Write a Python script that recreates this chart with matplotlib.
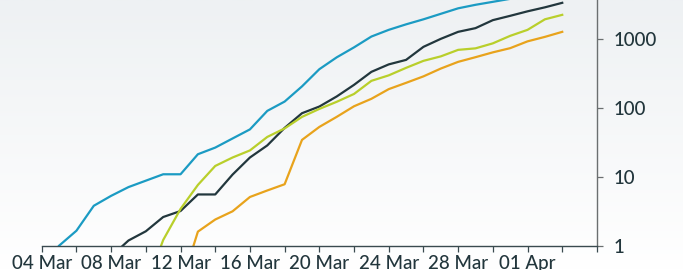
import numpy as np
import matplotlib
matplotlib.use("Agg")
import matplotlib.pyplot as plt
import matplotlib.dates as mdates
import matplotlib.ticker as mticker
from matplotlib.colors import LinearSegmentedColormap

# cumulative counts, one value per day from each series' first date
BLUE_START = "2020-03-05"
BLUE_VALUES = [1, 1.65, 3.8, 5.3, 7.1, 8.8, 10.9, 10.9, 21.3, 26.6, 36.1, 48.9,
               90.8, 124, 206, 366, 544, 760, 1091, 1365, 1641, 1941, 2333,
               2804, 3154, 3484, 3853]

DARK_START = "2020-03-08"
DARK_VALUES = [0.7, 1.19, 1.62, 2.61, 3.19, 5.55, 5.55, 10.8, 19.1, 28.6, 51.4,
               84, 105, 147, 217, 335, 430, 500, 773, 1010, 1277, 1445, 1888,
               2182, 2536, 2898, 3371]

LIME_START = "2020-03-10"
LIME_VALUES = [0.25, 1.21, 3.42, 7.63, 14.4, 19.1, 24.2, 38.0, 50.5, 74.3, 97,
               123, 160, 248, 298, 383, 484, 562, 699, 735, 869, 1117, 1365,
               1941, 2255]

ORANGE_START = "2020-03-12"
ORANGE_VALUES = [0.25, 1.6, 2.4, 3.16, 5.1, 6.34, 7.81, 34.4, 53.1, 74.3, 106,
                 136, 188, 232, 288, 374, 468, 547, 643, 740, 929, 1079, 1277]

SERIES = [
    (BLUE_START, BLUE_VALUES, "#1b9bc3"),
    (DARK_START, DARK_VALUES, "#22373d"),
    (LIME_START, LIME_VALUES, "#b9cf2b"),
    (ORANGE_START, ORANGE_VALUES, "#e8a31c"),
]

Y_TICKS = [1, 10, 100, 1000]
X_START = "2020-03-04"
X_END = "2020-04-05"

plt.rcParams["font.family"] = ["Lato", "DejaVu Sans"]
TEXT_COLOR = "#22363c"


def day_range(start, n, step=1):
    return np.datetime64(start) + np.arange(0, n, step)


def main():
    fig = plt.figure(figsize=(6.83, 2.70), dpi=100)

    # soft grey-to-white background
    bg = fig.add_axes([0, 0, 1, 1], zorder=-10)
    cmap = LinearSegmentedColormap.from_list("bg", ["#ffffff", "#eef1f3"])
    bg.imshow(np.linspace(0, 1, 256).reshape(-1, 1), cmap=cmap, aspect="auto",
              origin="lower", extent=[0, 1, 0, 1])
    bg.axis("off")

    # top of the axes runs past the figure edge, as in the cropped original
    ax = fig.add_axes([0.0611, 0.090, 0.8129, 1.020])
    ax.set_facecolor("none")

    for start, values, color in SERIES:
        ax.plot(day_range(start, len(values)), values, color=color, lw=1.6)

    ax.set_yscale("log")
    ax.set_ylim(1, 10000)
    ax.set_xlim(np.datetime64(X_START), np.datetime64(X_END))

    ax.yaxis.tick_right()
    ax.yaxis.set_major_locator(mticker.FixedLocator(Y_TICKS))
    ax.yaxis.set_major_formatter(mticker.FixedFormatter([str(t) for t in Y_TICKS]))
    ax.yaxis.set_minor_locator(mticker.NullLocator())

    major = day_range(X_START, 29, 4)   # labelled: 04 Mar .. 01 Apr
    minor = day_range(X_START, 33, 2)   # every other day up to 05 Apr
    ax.xaxis.set_major_locator(mticker.FixedLocator(mdates.date2num(major)))
    ax.xaxis.set_minor_locator(mticker.FixedLocator(mdates.date2num(minor)))
    ax.xaxis.set_major_formatter(mdates.DateFormatter("%d %b"))

    for side in ["top", "left"]:
        ax.spines[side].set_visible(False)
    ax.spines["bottom"].set_color("#3a4a4f")
    ax.spines["right"].set_color("#6b6f70")
    ax.spines["bottom"].set_linewidth(1.0)
    ax.spines["right"].set_linewidth(1.0)

    ax.tick_params(axis="x", which="both", length=4, width=0.9, color="#3a4a4f",
                   direction="out", labelsize=13.5, labelcolor=TEXT_COLOR, pad=3)
    ax.tick_params(axis="y", which="major", length=4, width=0.9, color="#6b6f70",
                   direction="out", labelsize=13.5, labelcolor=TEXT_COLOR, pad=8)
    for lab in ax.get_xticklabels() + ax.get_yticklabels():
        lab.set_fontweight("medium")

    fig.savefig("out.png", dpi=100)


if __name__ == "__main__":
    main()
